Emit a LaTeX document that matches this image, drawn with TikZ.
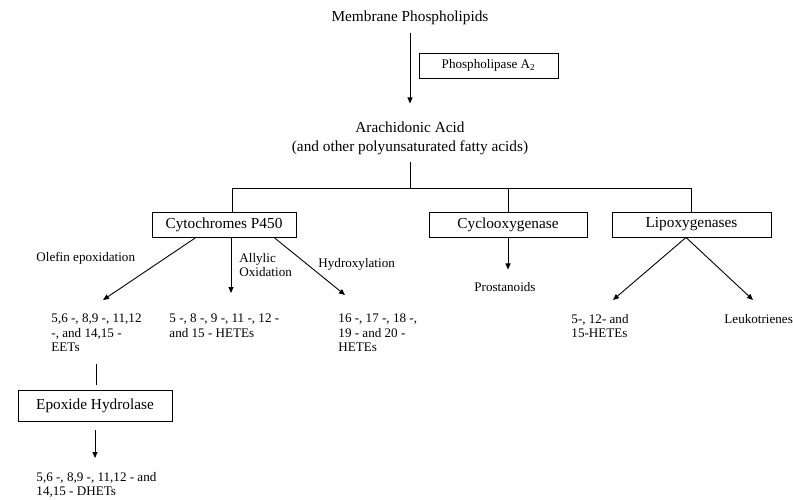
\documentclass[tikz,border=0pt]{standalone}
\usepackage{fontspec}
\setmainfont{Liberation Serif}
\usetikzlibrary{arrows.meta}

\begin{document}
\begin{tikzpicture}[x=1pt,y=-1pt,line width=0.9pt,>={Triangle[length=6pt,width=5pt]},
  big/.style={font={\fontsize{15.3pt}{19pt}\selectfont},inner sep=0pt},
  small/.style={font={\fontsize{13.1pt}{14.5pt}\selectfont},inner sep=0pt,align=left},
  enzyme/.style={draw,inner sep=0pt,minimum height=25pt}]
\useasboundingbox[fill=white] (0,0) rectangle (793,500);
% top of the cascade
\node[big,anchor=base] (mem) at (410,22) {Membrane Phospholipids};
\node[enzyme,small,minimum width=139pt] (pla) at (488.5,65.5) {Phospholipase A\textsubscript{2}};
\node[big,anchor=north,align=center] (ara) at (410,121.5) {Arachidonic Acid\\(and other polyunsaturated fatty acids)};
\draw[->,shorten <=7pt,shorten >=18pt] (mem.south) -- (ara.north);
% three enzyme families
\node[enzyme,big,minimum width=144pt] (cyt) at (224,224.5) {Cytochromes P450};
\node[enzyme,big,minimum width=158pt] (cox) at (508,224.5) {Cyclooxygenase};
\node[enzyme,big,minimum width=159pt] (lox) at (691.5,224.5) {Lipoxygenases};
\coordinate (split) at (410,188);
\coordinate (cytin) at (232,212);
\draw[shorten <=7pt] (ara.south) -- (split);
\draw (cytin) -- (cytin |- split) -- (split -| lox.north) -- (lox.north);
\draw (split -| cox.north) -- (cox.north);
% P450 branch
\node[small,anchor=base west] (olef) at (36,261.5) {Olefin epoxidation};
\node[small,anchor=north west] (ally) at (239,252.5) {Allylic\\Oxidation};
\node[small,anchor=base west] (hydr) at (318,267) {Hydroxylation};
\node[small,anchor=north west] (eet) at (51,313.5) {5,6 -, 8,9 -, 11,12\\-, and 14,15 -\\EETs};
\node[small,anchor=north west] (hmid) at (169,313.5) {5 -, 8 -, 9 -, 11 -, 12 -\\and 15 - HETEs};
\node[small,anchor=north west] (hrt) at (338,313.5) {16 -, 17 -, 18 -,\\19 - and 20 -\\HETEs};
\draw[->] ([xshift=-28pt]cyt.south) -- ([xshift=52pt,yshift=13.5pt]eet.north west);
\draw[->,shorten >=20.5pt] ([xshift=7pt]cyt.south) -- ([xshift=7pt]cyt.south |- hmid.north);
\draw[->] ([xshift=50pt]cyt.south) -- ([xshift=7pt,yshift=18.5pt]hrt.north west);
\node[enzyme,big,minimum width=154pt,minimum height=31pt] (eh) at (95,405.5) {Epoxide Hydrolase};
\node[small,anchor=north west] (dhet) at (36,471.5) {5,6 -, 8,9 -, 11,12 - and\\14,15 - DHETs};
\draw[shorten <=12pt,shorten >=5pt] (eet.south) -- (eet.south |- eh.north);
\draw[->,shorten <=9pt,shorten >=13.5pt] (eh.south) -- (eh.south |- dhet.north);
% cyclooxygenase branch
\node[small,anchor=base] (pros) at (505,291.5) {Prostanoids};
\draw[->,shorten >=12.5pt] (cox.south) -- (cox.south |- pros.north);
% lipoxygenase branch
\node[small,anchor=north west] (hlox) at (571,313.5) {5-, 12- and\\15-HETEs};
\node[small,anchor=north west] (leuk) at (724,313.5) {Leukotrienes};
\draw[->] ([xshift=-5.5pt]lox.south) -- ([xshift=42pt,yshift=13.5pt]hlox.north west);
\draw[->] ([xshift=-5.5pt]lox.south) -- ([xshift=29pt,yshift=13.5pt]leuk.north west);
\end{tikzpicture}
\end{document}
